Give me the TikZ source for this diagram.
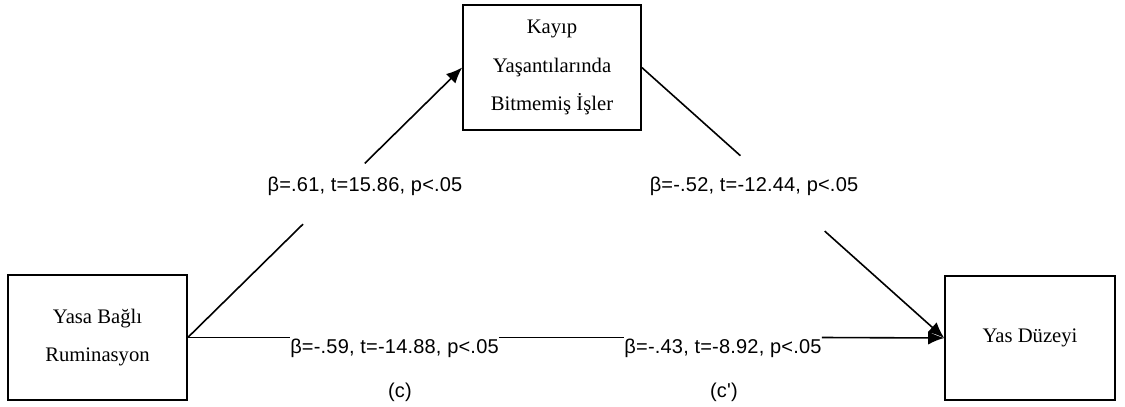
\documentclass[tikz,border=0pt]{standalone}
\usepackage{fontspec}
\setmainfont{Liberation Serif}
\newfontfamily\labfont[LetterSpace=1]{Liberation Sans}
\usetikzlibrary{calc,arrows.meta}

\begin{document}
\begin{tikzpicture}[x=0.75pt,y=-0.75pt,
    var/.style={draw,line width=1.2pt,align=center,inner sep=0pt,
      font=\fontsize{15.5}{29}\selectfont},
    link/.style={line width=1.2pt},
    tip/.style={-{Latex[length=12pt,width=10pt]}},
    coef/.style={anchor=base,inner sep=0pt,font=\labfont\fontsize{15}{18}\selectfont}]
     %\draw[step=50,very thin,color=blue!20] (0,0) grid (1125,407);
     \useasboundingbox (0,0) rectangle (1125,407);

     \node[var,minimum width=134.25pt,minimum height=93.75pt] (rum) at (97.5,337.5) {Yasa Bağlı\\Ruminasyon};
     \node[var,minimum width=133.5pt,minimum height=93.75pt] (kay) at (552,67.5) {Kayıp\\Yaşantılarında\\Bitmemiş İşler};
     \node[var,minimum width=127.5pt,minimum height=93pt] (yas) at (1030,338) {Yas Düzeyi};

     % broken lines round the labels
     \coordinate (a1) at ($(rum.east)!0.42!(kay.west)$);
     \coordinate (a2) at ($(rum.east)!0.645!(kay.west)$);
     \coordinate (b1) at ($(kay.east)!0.326!(yas.west)$);
     \coordinate (b2) at ($(kay.east)!0.605!(yas.west)$);

     \draw[link] (rum.east) -- (a1);
     \draw[link,tip] (a2) -- (kay.west);
     \draw[link] (kay.east) -- (b1);
     \draw[link,tip] (b2) -- (yas.west);

     \node[coef] (ka) at (365,191) {β=.61, t=15.86, p<.05};
     \node[coef] (ky) at (754,191) {β=-.52, t=-12.44, p<.05};

     \node[coef] (ry1) at (394.5,353) {β=-.59, t=-14.88, p<.05};
     \node[coef] (ry2) at (723,353) {β=-.43, t=-8.92, p<.05};
     \draw[link] (rum.east) -- (rum.east -| ry1.west);
     \draw[link] (ry1.east |- rum.east) -- (rum.east -| ry2.west);
     \draw[link,tip] (ry2.east |- rum.east) -- (yas.west);

     \node[coef] (c) at (400,397) {(c)};
     \node[coef] (cp) at (724,397) {(c')};

\end{tikzpicture}
\end{document}
